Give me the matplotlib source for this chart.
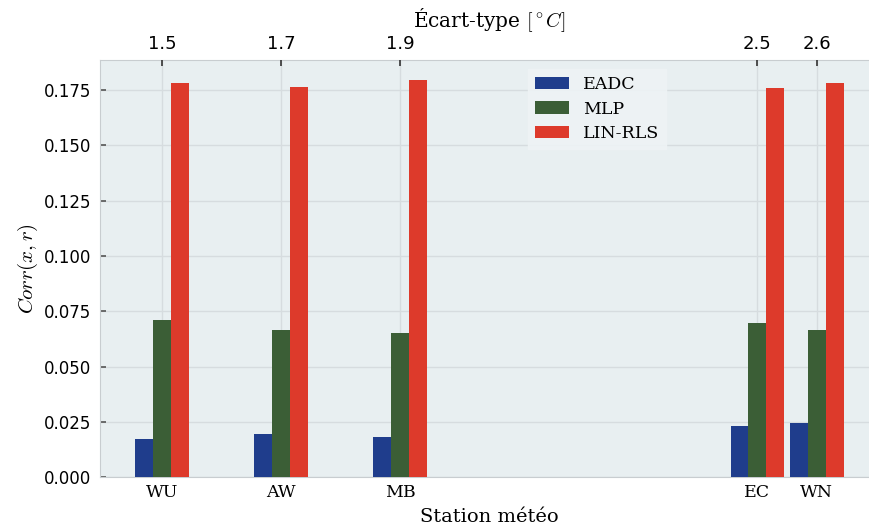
import matplotlib
matplotlib.use("Agg")
import matplotlib.pyplot as plt
import numpy as np

stations = ["WU", "AW", "MB", "EC", "WN"]
std_dev = [1.5, 1.7, 1.9, 2.5, 2.6]
std_labels = ["1.5", "1.7", "1.9", "2.5", "2.6"]
eadc = [0.0173, 0.0196, 0.0181, 0.0233, 0.0244]
mlp = [0.0709, 0.0664, 0.0654, 0.0697, 0.0664]
lin_rls = [0.1783, 0.1764, 0.1795, 0.1758, 0.1780]
series_names = ["EADC", "MLP", "LIN-RLS"]
colors = ["#1f3d8c", "#3b5e36", "#dd3a2b"]

plt.rcParams["mathtext.fontset"] = "cm"
serif = "DejaVu Serif"

fig = plt.figure(figsize=(8.69, 5.32), dpi=100)
fig.patch.set_facecolor("white")
ax = fig.add_axes([0.115, 0.1025, 0.8965, 0.7845])
ax.set_facecolor("#e8eff1")

w = 0.03
x = np.array(std_dev)
for i, (vals, name, c) in enumerate(zip([eadc, mlp, lin_rls], series_names, colors)):
    ax.bar(x + (i - 1) * w, vals, width=w, color=c, label=name, zorder=3)

ax.set_xlim(1.3955, 2.7045)
ax.set_ylim(0, 0.1885)
yt = np.arange(0, 0.176, 0.025)
ax.set_yticks(yt)
ax.set_yticklabels([f"{v:.3f}" for v in yt], fontsize=12)
ax.set_xticks(std_dev)
ax.set_xticklabels(stations, fontfamily=serif, fontsize=12.5)
ax.tick_params(axis="x", length=0, pad=5)
ax.tick_params(axis="y", direction="in", length=4, width=1.2, color="#555555", pad=6)
ax.grid(True, color="#d6dcdf", linewidth=1.0, zorder=0)
for s in ax.spines.values():
    s.set_color("#c8cdd0")
    s.set_linewidth(0.8)

ax.set_xlabel("Station météo", fontfamily=serif, fontsize=14, labelpad=5)
ax.set_ylabel(r"$Corr(x,r)$", fontsize=15, labelpad=3)

ax2 = ax.twiny()
ax2.set_xlim(ax.get_xlim())
ax2.set_xticks(std_dev)
ax2.set_xticklabels(std_labels, fontsize=13)
ax2.tick_params(axis="x", direction="in", length=4, width=1.2, color="#333333", pad=5)
for s in ax2.spines.values():
    s.set_visible(False)
ax2.set_xlabel(r"Écart-type $[^\circ C]$", fontfamily=serif, fontsize=14.5, labelpad=6)

leg = ax.legend(loc="upper left", bbox_to_anchor=(0.538, 1.0), prop={"family": serif, "size": 12.5},
                frameon=True, fancybox=False, handlelength=2.0, handleheight=0.7,
                labelspacing=0.45, borderpad=0.4, handletextpad=0.8)
leg.get_frame().set_facecolor("#eef3f5")
leg.get_frame().set_edgecolor("#eef3f5")
leg.get_frame().set_alpha(0.9)

fig.savefig("out.png", dpi=100)
